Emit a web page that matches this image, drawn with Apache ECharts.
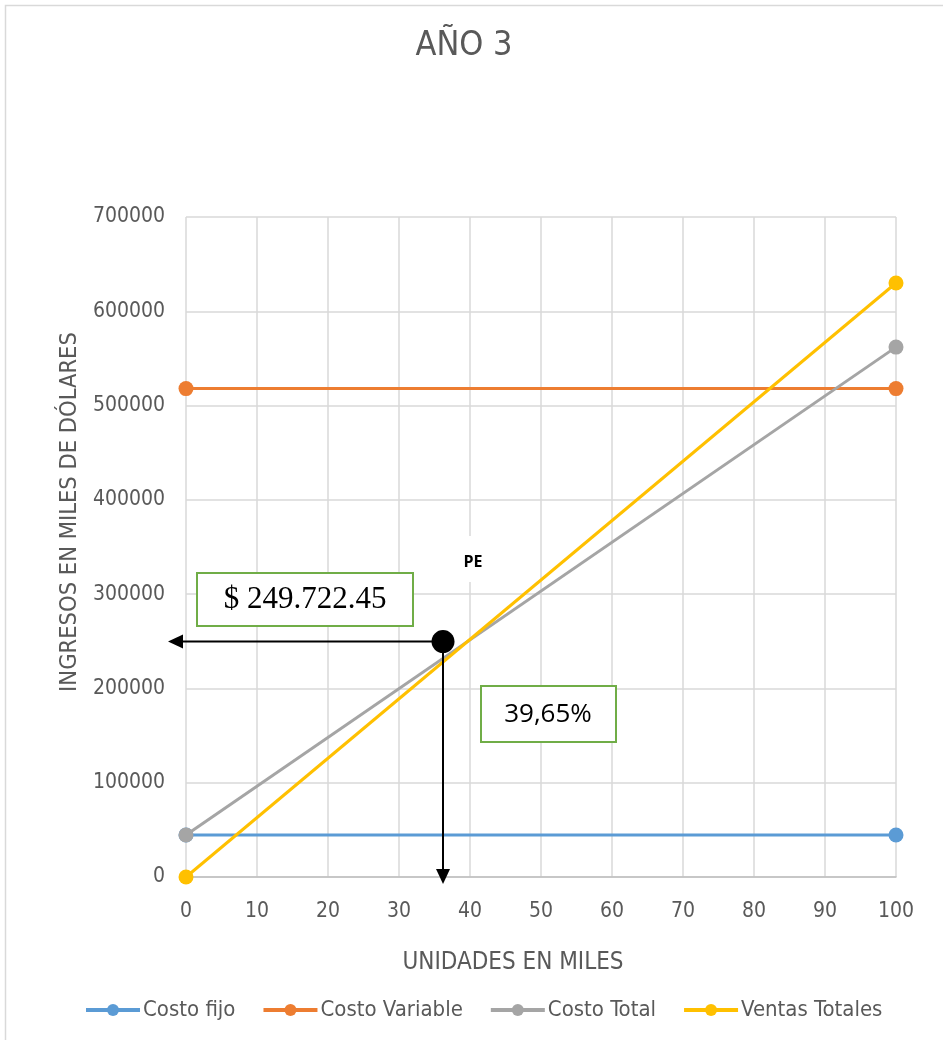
<!DOCTYPE html>
<html>
<head>
<meta charset="utf-8">
<title>AÑO 3</title>
<script src="https://cdn.jsdelivr.net/npm/echarts@6/dist/echarts.min.js"></script>
<style>
  html, body { margin: 0; padding: 0; background: #ffffff; }
  #chart { width: 943px; height: 1040px; }
</style>
</head>
<body>
<div id="chart"></div>
<script>
// Break-even chart, year 3
const units = [0, 100];                       // thousands of units
const costoFijo = [44500, 44500];
const costoVariable = [518000, 518000];
const costoTotal = [44500, 562000];
const ventasTotales = [0, 630000];

const seriesNames = ['Costo fijo', 'Costo Variable', 'Costo Total', 'Ventas Totales'];
const seriesColors = ['#5B9BD5', '#ED7D31', '#A5A5A5', '#FFC000'];

// Break-even point and its annotations
const peUnits = 36.2;
const peValue = 249722.45;
const peValueText = '$ 249.722.45';
const pePercentText = '39,65%';
const peTag = 'PE';

const FONT = '"DejaVu Sans Condensed", "Liberation Sans Narrow", sans-serif';
const TEXT = '#595959';

const chart = echarts.init(document.getElementById('chart'), null, { renderer: 'canvas' });

const pairs = (ys) => units.map((x, i) => [x, ys[i]]);
const lineSeries = [costoFijo, costoVariable, costoTotal, ventasTotales].map((ys, i) => ({
  name: seriesNames[i],
  type: 'line',
  data: pairs(ys),
  symbol: 'circle',
  symbolSize: 15,
  showSymbol: true,
  lineStyle: { width: 3, color: seriesColors[i] },
  itemStyle: { color: seriesColors[i], opacity: 1 },
  emphasis: { disabled: true },
  animation: false,
  z: 3 + i
}));

const option = {
  animation: false,
  backgroundColor: '#ffffff',
  title: {
    text: 'AÑO 3',
    left: 459,
    top: 24,
    textAlign: 'center',
    textStyle: { fontFamily: FONT, fontSize: 34, fontWeight: 'normal', color: TEXT }
  },
  grid: { left: 186, right: 47, top: 217, bottom: 163, containLabel: false },
  xAxis: {
    type: 'value',
    min: 0, max: 100, interval: 10,
    name: 'UNIDADES EN MILES',
    nameLocation: 'middle',
    nameGap: 74,
    nameTextStyle: { fontFamily: FONT, fontSize: 24, color: TEXT, padding: [0, 56, 0, 0] },
    axisLine: { show: true, lineStyle: { color: '#BFBFBF', width: 1.5 } },
    axisTick: { show: false },
    axisLabel: { fontFamily: FONT, fontSize: 21, color: TEXT, margin: 24 },
    splitLine: { show: true, lineStyle: { color: '#D9D9D9', width: 1.5 } }
  },
  yAxis: {
    type: 'value',
    min: 0, max: 700000, interval: 100000,
    name: 'INGRESOS EN MILES DE DÓLARES',
    nameLocation: 'middle',
    nameGap: 99,
    nameRotate: 90,
    nameTextStyle: { fontFamily: FONT, fontSize: 23.5, color: TEXT, padding: [0, 0, 0, 70] },
    axisLine: { show: false },
    axisTick: { show: false },
    axisLabel: { fontFamily: FONT, fontSize: 21, color: TEXT, margin: 21, formatter: (v) => String(v) },
    splitLine: { show: true, lineStyle: { color: '#D9D9D9', width: 1.5 } }
  },
  legend: {
    data: seriesNames,
    left: 79,
    top: 994,
    itemWidth: 54,
    itemHeight: 15,
    itemGap: 26,
    lineStyle: { width: 4 },
    textStyle: { fontFamily: FONT, fontSize: 22, color: TEXT, padding: [0, 0, 0, -2] },
    selectedMode: false
  },
  series: lineSeries.concat([{
    name: 'PE',
    type: 'scatter',
    data: [[peUnits, peValue]],
    symbol: 'circle',
    symbolSize: 23,
    itemStyle: { color: '#000000', opacity: 1 },
    emphasis: { disabled: true },
    z: 20
  }])
};

chart.setOption(option);

// Annotation layer: arrows from the break-even point, value boxes and the PE tag
const pe = chart.convertToPixel({ gridIndex: 0 }, [peUnits, peValue]);
const origin = chart.convertToPixel({ gridIndex: 0 }, [0, 0]);
const arrowLeftTip = origin[0] - 18;
const arrowDownTip = origin[1] + 7;
const head = 15, half = 7;

chart.setOption({
  graphic: [
    // outer chart frame
    { type: 'rect', silent: true, z: 0,
      shape: { x: 5.5, y: 5.5, width: 1000, height: 1100 },
      style: { fill: 'none', stroke: '#D9D9D9', lineWidth: 1.5 } },
    // horizontal arrow to the revenue axis
    { type: 'line', silent: true, z: 30,
      shape: { x1: pe[0], y1: pe[1], x2: arrowLeftTip + head, y2: pe[1] },
      style: { stroke: '#000000', lineWidth: 2 } },
    { type: 'polygon', silent: true, z: 30,
      shape: { points: [[arrowLeftTip, pe[1]], [arrowLeftTip + head, pe[1] - half], [arrowLeftTip + head, pe[1] + half]] },
      style: { fill: '#000000' } },
    // vertical arrow to the units axis
    { type: 'line', silent: true, z: 30,
      shape: { x1: pe[0], y1: pe[1], x2: pe[0], y2: arrowDownTip - head },
      style: { stroke: '#000000', lineWidth: 2 } },
    { type: 'polygon', silent: true, z: 30,
      shape: { points: [[pe[0], arrowDownTip], [pe[0] - half, arrowDownTip - head], [pe[0] + half, arrowDownTip - head]] },
      style: { fill: '#000000' } },
    // value box
    { type: 'rect', silent: true, z: 31,
      shape: { x: 197, y: 573, width: 216, height: 53 },
      style: { fill: '#ffffff', stroke: '#70AD47', lineWidth: 2 } },
    { type: 'text', silent: true, z: 32,
      style: { x: 305, y: 600, text: peValueText, align: 'center', verticalAlign: 'middle',
               font: '31px "Liberation Serif", "Times New Roman", serif', fill: '#000000' } },
    // percentage box
    { type: 'rect', silent: true, z: 31,
      shape: { x: 481, y: 686, width: 135, height: 56 },
      style: { fill: '#ffffff', stroke: '#70AD47', lineWidth: 2 } },
    { type: 'text', silent: true, z: 32,
      style: { x: 548, y: 715, text: pePercentText, align: 'center', verticalAlign: 'middle',
               font: '26px "Open Sans", sans-serif', fill: '#000000' } },
    // PE tag
    { type: 'rect', silent: true, z: 25,
      shape: { x: 448, y: 536, width: 50, height: 46 },
      style: { fill: '#ffffff' } },
    { type: 'text', silent: true, z: 26,
      style: { x: 473, y: 562, text: peTag, align: 'center', verticalAlign: 'middle',
               font: 'bold 16px "Open Sans", sans-serif', fill: '#000000' } }
  ]
});
</script>
</body>
</html>
